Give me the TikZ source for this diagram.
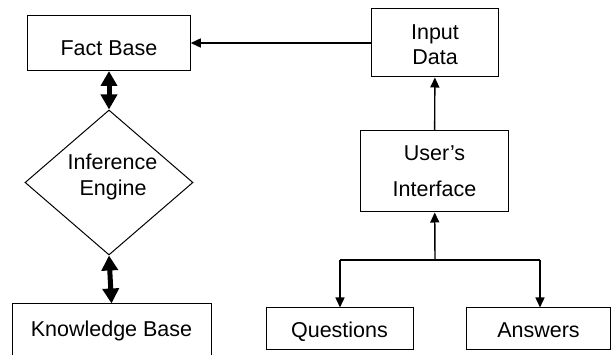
\documentclass[tikz,border=0pt]{standalone}
\usepackage{fontspec}
\setmainfont{Liberation Sans}
\usepackage{tikz}
\usetikzlibrary{arrows.meta,positioning,shapes.geometric}
\tikzset{
  boxnode/.style={draw=black,line width=1pt,inner sep=0pt},
  dianode/.style={boxnode,diamond,shape aspect=1},
  % zero height/depth: label centre sits on the baseline
  txt/.style={inner sep=0pt,text height=0pt,text depth=0pt,font=\fontsize{21.5}{25}\selectfont},
  flowedge/.style={-{Triangle[length=10pt,width=9pt]},line width=1.4pt,black},
  linkedge/.style={line width=1.4pt,black},
  biedge/.style={{Triangle[length=15pt,width=16pt]}-{Triangle[length=15pt,width=16pt]},line width=5pt,black},
}
\begin{document}
\begin{tikzpicture}[x=1pt,y=-1pt]
  \useasboundingbox (0,0) rectangle (611,355);
  \clip (0,0) rectangle (611,355);
  % left column
  \node[boxnode,minimum width=162.5pt,minimum height=55pt,
        label={[txt,yshift=-13pt]center:Fact Base}] (nFB) at (109,43) {};
  \node[dianode,minimum width=168pt,minimum height=145pt,
        label={[txt,xshift=3.5pt,yshift=12.5pt]center:Inference},
        label={[txt,xshift=4pt,yshift=-13pt]center:Engine}] (nIE) at (109,182.5) {};
  \node[boxnode,minimum width=199pt,minimum height=70pt,
        label={[txt,yshift=2pt]center:Knowledge Base}] (nKB) at (111.5,339) {};
  % right column
  \node[boxnode,minimum width=126.5pt,minimum height=68pt,
        label={[txt,yshift=3.5pt]center:Input},
        label={[txt,yshift=-21.5pt]center:Data}] (nID) at (435,43) {};
  \node[boxnode,minimum width=148pt,minimum height=81pt,
        label={[txt,yshift=11pt]center:User’s},
        label={[txt,yshift=-25pt]center:Interface}] (nUI) at (434.5,171.5) {};
  \node[boxnode,minimum width=147pt,minimum height=42pt,
        label={[txt,yshift=-9pt]center:Questions}] (nQ) at (339.5,329) {};
  \node[boxnode,minimum width=143.5pt,minimum height=42pt,
        label={[txt,yshift=-9pt]center:Answers}] (nA) at (538.5,329) {};
  \coordinate (jL) at (340,260);
  \coordinate (jM) at (435,260);
  \coordinate (jR) at (540,260);
  % connectors
  \draw[flowedge] (nID) -- (nFB);
  \draw[flowedge] (nUI) -- (nID);
  \draw[flowedge] (jM) -- (nUI);
  \draw[linkedge] (jL) -- (jR);
  \draw[flowedge] (jL) -- (jL |- nQ.north);
  \draw[flowedge] (jR) -- (jR |- nA.north);
  \draw[biedge] (nFB) -- (nIE);
  \draw[biedge] (nIE.south) -- (nKB.north);
\end{tikzpicture}
\end{document}
